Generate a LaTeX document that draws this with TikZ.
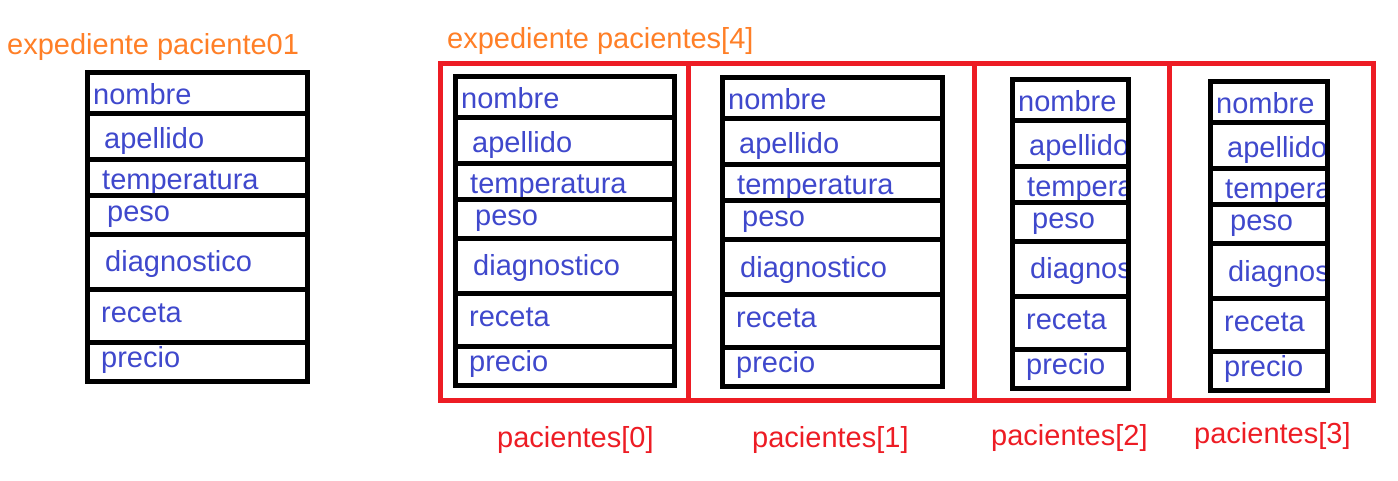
\documentclass[tikz,border=0pt]{standalone}
\usepackage{fontspec}
\setmainfont{Liberation Sans}

\definecolor{naranja}{HTML}{FF7F27}
\definecolor{rojo}{HTML}{ED1C24}
\definecolor{azul}{HTML}{3F48CC}

\tikzset{
  letra/.style={font=\fontsize{29}{34}\selectfont, inner sep=0pt, anchor=base west},
  campo/.style={letra, text=azul},
  titulo/.style={letra, text=naranja},
  indice/.style={letra, text=rojo},
  borde/.style={line width=5pt},
  caja/.style={draw=rojo, line width=5pt}
}

\begin{document}
\begin{tikzpicture}[x=1pt,y=-1pt]
    \useasboundingbox (0,0) rectangle (1398,481);

    \node[titulo] (tit01) at (7,55) {expediente paciente01};
    \node[titulo] (tit4) at (447,49) {expediente pacientes[4]};

    % casillas del arreglo
    \foreach \xa/\xb/\i/\xt/\yt in {440/688/0/497/447, 688/974/1/752/447,
                                    974/1169/2/991/445, 1169/1373/3/1194/443} {
      \draw[caja] (\xa,64) rectangle (\xb,400);
      \node[indice] (idx\i) at (\xt,\yt) {pacientes[\i]};
    }

    % registros
    \foreach \r/\xl/\xr/\yt in {p01/87/307/73, p0/455/674/77, p1/722/942/78,
                                p2/1012/1128/80, p3/1210/1327/82} {
      \begin{scope}
        \clip (\xl,\yt) rectangle (\xr,\yt+308);
        \foreach \c/\dx/\dy in {nombre/6/32, apellido/17/76, temperatura/15/117,
                                peso/20/149, diagnostico/18/199, receta/14/249,
                                precio/14/294}
          \node[campo] (\r-\c) at (\xl+\dx,\yt+\dy) {\c};
      \end{scope}
      \draw[borde] (\xl,\yt) rectangle (\xr,\yt+308);
      \foreach \dy in {41,87,123,162,216,269}
        \draw[borde] (\xl,\yt+\dy) -- (\xr,\yt+\dy);
    }
  \end{tikzpicture}
\end{document}
